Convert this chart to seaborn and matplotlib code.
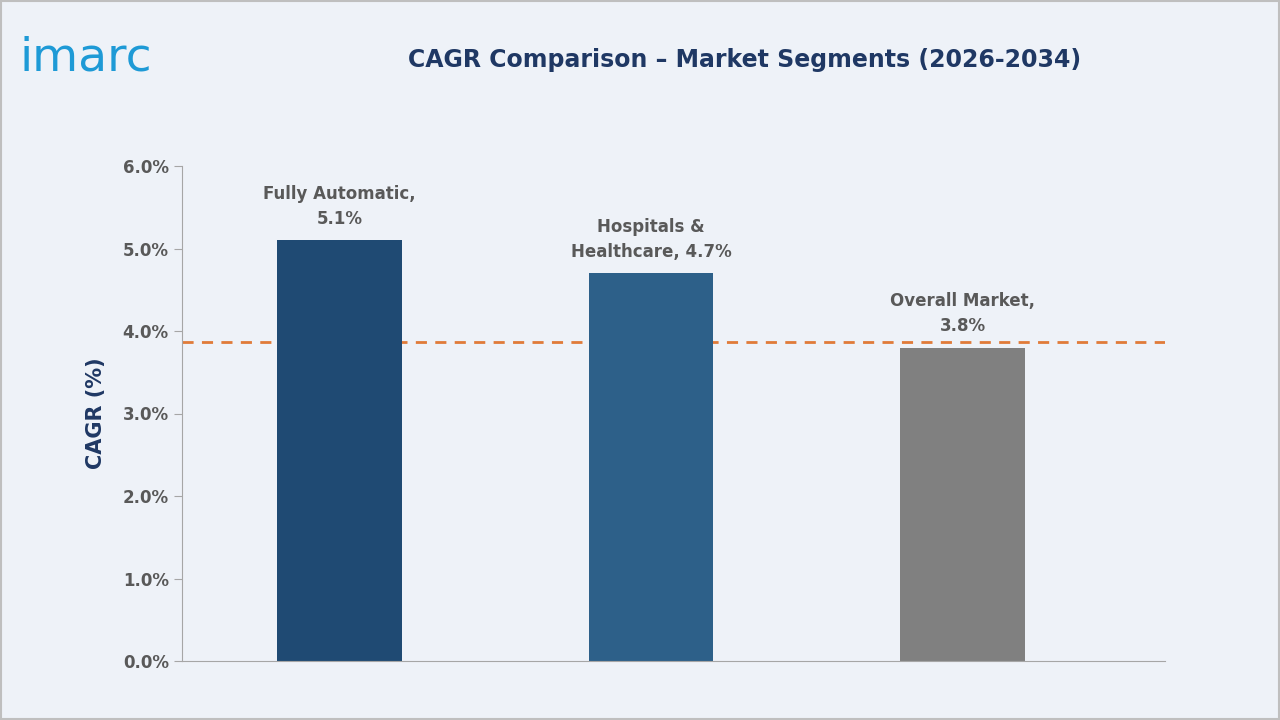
import matplotlib
matplotlib.use("Agg")
import matplotlib.pyplot as plt
import seaborn as sns
import pandas as pd

# data
segments = ["Fully Automatic", "Hospitals & Healthcare", "Overall Market"]
cagr = [5.1, 4.7, 3.8]
labels = ["Fully Automatic,\n5.1%", "Hospitals &\nHealthcare, 4.7%", "Overall Market,\n3.8%"]
bar_colors = ["#1F4A73", "#2D6089", "#808080"]
ref_line = 3.87

sns.set_style("white")
plt.rcParams['font.family'] = ['DejaVu Sans']

bg = "#EEF2F8"
fig = plt.figure(figsize=(12.8, 7.2), dpi=100, facecolor=bg)
ax = fig.add_axes([182/1280, 1-661/720, (1165-182)/1280, (661-166)/720])
ax.set_facecolor(bg)

df = pd.DataFrame({"seg": segments, "cagr": cagr})
sns.barplot(data=df, x="seg", y="cagr", hue="seg", palette=bar_colors,
            width=0.4, legend=False, ax=ax, saturation=1, linewidth=0)

ax.set_xlim(-0.505, 2.65)
ax.set_ylim(0, 6)
ax.set_yticks([0, 1, 2, 3, 4, 5, 6])
ax.set_yticklabels([f"{v:.1f}%" for v in range(7)], fontsize=12, color="#595959",
                   fontweight="bold")
ax.set_xticks([])
ax.set_xlabel("")
ax.set_ylabel("CAGR (%)", fontsize=15, fontweight="bold", color="#1F3864", labelpad=12)
ax.tick_params(axis="y", length=6, color="#A6A6A6", direction="out", left=True)
for s in ["top", "right"]:
    ax.spines[s].set_visible(False)
ax.spines["left"].set_color("#A6A6A6")
ax.spines["bottom"].set_color("#A6A6A6")

ax.axhline(ref_line, color="#E07B39", linestyle=(0, (4, 3)), linewidth=2, zorder=0.5)

for i, (v, lab) in enumerate(zip(cagr, labels)):
    ax.text(i, v + 0.15, lab, ha="center", va="bottom", fontsize=12,
            color="#595959", linespacing=1.5, fontweight="bold")

fig.text(745/1280, 1-60/720, "CAGR Comparison \u2013 Market Segments (2026-2034)",
         ha="center", va="center", fontsize=17, fontweight="bold", color="#1F3864")
fig.text(20/1280, 1-58/720, "imarc", ha="left", va="center", fontsize=34,
         color="#1E9AD6")

# border
fig.patches.append(plt.Rectangle((0.001, 0.001), 0.998, 0.998, transform=fig.transFigure,
                                 fill=False, edgecolor="#BFBFBF", linewidth=1.5))

fig.savefig("out.png", dpi=100, facecolor=bg)
